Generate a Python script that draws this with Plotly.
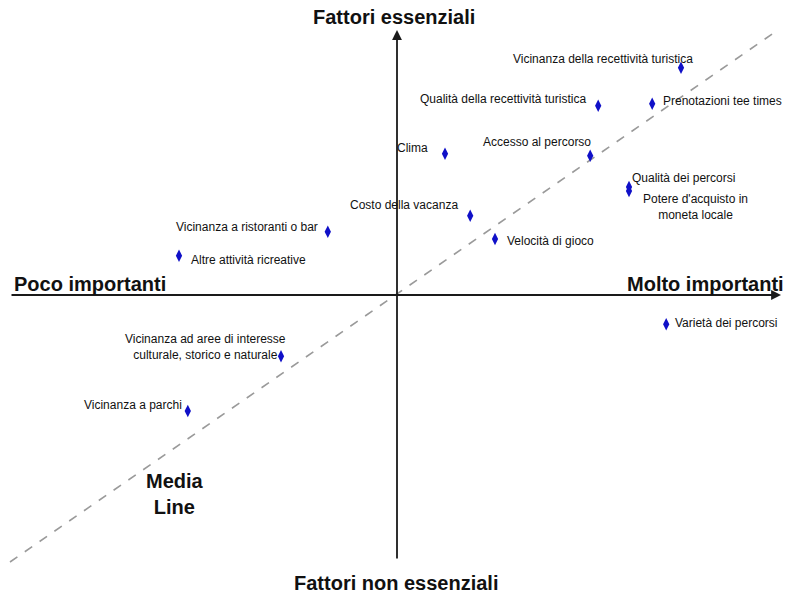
import plotly.graph_objects as go

# ---- data (importance score vs essentiality score, centred at 0) ----
factors = [
    "Vicinanza della recettività turistica",
    "Qualità della recettività turistica",
    "Prenotazioni tee times",
    "Clima",
    "Accesso al percorso",
    "Qualità dei percorsi",
    "Potere d'acquisto in<br>moneta locale",
    "Costo della vacanza",
    "Velocità di gioco",
    "Vicinanza a ristoranti o bar",
    "Altre attività ricreative",
    "Vicinanza ad aree di interesse<br>culturale, storico e naturale",
    "Vicinanza a parchi",
    "Varietà dei percorsi",
]
importance = [7.10, 5.03, 6.38, 1.20, 4.83, 5.80, 5.80, 1.83, 2.45, -1.73, -5.45, -2.90, -5.23, 6.73]
essentiality = [5.68, 4.73, 4.78, 3.53, 3.48, 2.70, 2.60, 1.98, 1.40, 1.58, 0.98, -1.53, -2.90, -0.73]

media_x = [-9.675, 9.525]
media_y = [-6.675, 6.625]

axis_x_extent = [-9.675, 9.60]
axis_y_extent = [-6.625, 6.625]

# label placement (style): anchor, x shift px, y shift px
label_style = [
    ("center", -78, 9),
    ("right", -10, 7),
    ("left", 9, 3),
    ("right", -15, 6),
    ("right", 3, 14),
    ("left", 1, 9),
    ("center", 66, -16),
    ("right", -10, 11),
    ("left", 10, -2),
    ("right", -8, 5),
    ("left", 10, -4),
    ("center", -76, 9),
    ("right", -4, 6),
    ("left", 7, 1),
]

FONT = "Arial, Liberation Sans, sans-serif"

fig = go.Figure()

fig.add_trace(go.Scatter(
    x=media_x, y=media_y, mode="lines",
    line=dict(color="#9a9a9a", width=1.6, dash="dash"),
    hoverinfo="skip", showlegend=False,
))

fig.add_trace(go.Scatter(
    x=importance, y=essentiality, mode="markers",
    marker=dict(symbol="diamond-tall", size=9, color="#1010c8",
                line=dict(width=0)),
    text=factors, hoverinfo="text", showlegend=False,
))

annotations = []
# axes with arrows
annotations.append(dict(x=axis_x_extent[1], y=0, ax=axis_x_extent[0], ay=0,
                        xref="x", yref="y", axref="x", ayref="y", text="",
                        showarrow=True, arrowhead=2, arrowsize=1.1,
                        arrowwidth=1.8, arrowcolor="#1a1a1a"))
annotations.append(dict(x=0, y=axis_y_extent[1], ax=0, ay=axis_y_extent[0],
                        xref="x", yref="y", axref="x", ayref="y", text="",
                        showarrow=True, arrowhead=2, arrowsize=1.1,
                        arrowwidth=1.8, arrowcolor="#1a1a1a"))

for name, xv, yv, (anc, dx, dy) in zip(factors, importance, essentiality, label_style):
    annotations.append(dict(x=xv, y=yv, text=name, showarrow=False,
                            xanchor=anc, yanchor="middle", align="center",
                            xshift=dx, yshift=dy,
                            font=dict(family=FONT, size=12, color="#111111")))

big = dict(family=FONT, size=20, color="#111111")
annotations += [
    dict(x=0.4925, y=1 - 17 / 598, xref="paper", yref="paper",
         text="<b>Fattori essenziali</b>", showarrow=False,
         xanchor="center", yanchor="middle", font=big),
    dict(x=0.495, y=1 - 583 / 598, xref="paper", yref="paper",
         text="<b>Fattori non essenziali</b>", showarrow=False,
         xanchor="center", yanchor="middle", font=big),
    dict(x=12 / 800, y=1 - 284 / 598, xref="paper", yref="paper",
         text="<b>Poco importanti</b>", showarrow=False,
         xanchor="left", yanchor="middle", font=big),
    dict(x=786 / 800, y=1 - 284 / 598, xref="paper", yref="paper",
         text="<b>Molto importanti</b>", showarrow=False,
         xanchor="right", yanchor="middle", font=big),
    dict(x=175 / 800, y=1 - 494 / 598, xref="paper", yref="paper",
         text="<b>Media<br>Line</b>", showarrow=False,
         xanchor="center", yanchor="middle", align="center", font=big),
]

fig.update_layout(
    width=800, height=598,
    margin=dict(l=0, r=0, t=0, b=0),
    paper_bgcolor="white", plot_bgcolor="white",
    xaxis=dict(range=[-9.925, 10.075], visible=False, fixedrange=True),
    yaxis=dict(range=[-7.575, 7.375], visible=False, fixedrange=True),
    annotations=annotations,
    showlegend=False,
)

fig.write_html("out.html",
               config={"displayModeBar": False},
               post_script="document.body.style.margin='0';document.body.style.overflow='hidden';")
